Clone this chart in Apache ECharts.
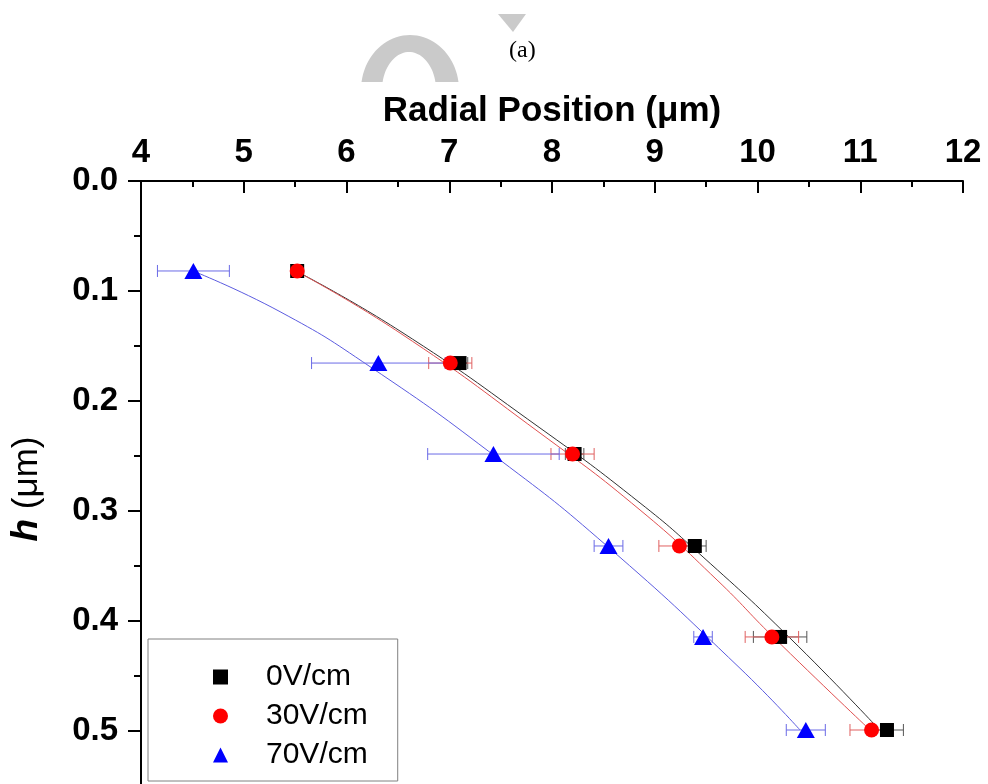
<!DOCTYPE html>
<html>
<head>
<meta charset="utf-8">
<script src="https://cdn.jsdelivr.net/npm/echarts@6/dist/echarts.min.js"></script>
<style>
  html, body { margin: 0; padding: 0; background: #fff; overflow: hidden; }
  /* the plot runs past the bottom of the window, as in the original figure */
  #chart { width: 988px; height: 841px; }
</style>
</head>
<body>
<div id="chart"></div>
<script>
// measured points (h in um, radial position in um)
const hValues = [0.0818, 0.1655, 0.2482, 0.3318, 0.4145, 0.4991];
const pos0V = [5.52, 7.10, 8.22, 9.39, 10.22, 11.26];
const pos30V = [5.52, 7.01, 8.20, 9.24, 10.14, 11.11];
const pos70V = [4.51, 6.31, 7.43, 8.55, 9.47, 10.47];
const err0V = [0.05, 0.08, 0.09, 0.11, 0.26, 0.16];
const err30V = [0.05, 0.21, 0.21, 0.20, 0.26, 0.21];
const err70V = [0.35, 0.65, 0.64, 0.14, 0.09, 0.19];

// fitted curves: [radial position, h]
const fit0V = [[5.518, 0.0823], [6.521, 0.1364], [7.883, 0.2245], [8.857, 0.2927], [9.470, 0.3418], [10.316, 0.4155], [11.153, 0.4955]];
const fit30V = [[5.518, 0.0823], [6.521, 0.1382], [7.883, 0.2291], [8.857, 0.2991], [9.606, 0.3627], [10.151, 0.4143], [11.075, 0.4973]];
const fit70V = [[4.506, 0.0818], [5.353, 0.1188], [6.229, 0.1688], [7.494, 0.2536], [8.535, 0.3318], [9.830, 0.4430], [10.414, 0.4991]];

const seriesNames = ['0V/cm', '30V/cm', '70V/cm'];
const xTicks = { min: 4, max: 12, interval: 1 };
const yTicks = { min: 0, max: 0.6, interval: 0.1 };

const font = 'Arial, "Liberation Sans", Helvetica, sans-serif';

const points = (xs, errs) => xs.map((x, i) => [x, hValues[i], errs[i]]);

function errorBars(name, xs, errs, color) {
  return {
    name: name + ' err',
    type: 'custom',
    z: 3,
    data: points(xs, errs),
    renderItem: (params, api) => {
      const y = api.value(1);
      const a = api.coord([api.value(0) - api.value(2), y]);
      const b = api.coord([api.value(0) + api.value(2), y]);
      const style = { stroke: color, lineWidth: 1 };
      return {
        type: 'group',
        children: [
          { type: 'line', shape: { x1: a[0], y1: a[1], x2: b[0], y2: b[1] }, style },
          { type: 'line', shape: { x1: a[0], y1: a[1] - 6, x2: a[0], y2: a[1] + 6 }, style },
          { type: 'line', shape: { x1: b[0], y1: b[1] - 6, x2: b[0], y2: b[1] + 6 }, style },
        ],
      };
    },
  };
}

function fitLine(data, color) {
  return {
    type: 'line',
    data,
    smooth: true,
    symbol: 'none',
    z: 2,
    lineStyle: { color, width: 1 },
  };
}

function markers(name, xs, symbol, size, color) {
  return {
    name,
    type: 'scatter',
    data: points(xs, xs.map(() => 0)),
    symbol,
    symbolSize: size,
    z: 5,
    itemStyle: { color, opacity: 1 },
  };
}

// light grey watermark fragments
function archPoints() {
  const pts = [];
  const cx = 410, cy = 90;
  const t0 = Math.asin(8 / 55), t1 = Math.asin(8 / 38);
  for (let i = 0; i <= 40; i++) {
    const t = Math.PI - t0 - (Math.PI - 2 * t0) * i / 40;
    pts.push([cx + 49 * Math.cos(t), cy - 55 * Math.sin(t)]);
  }
  for (let i = 0; i <= 40; i++) {
    const t = t1 + (Math.PI - 2 * t1) * i / 40;
    pts.push([cx - 1 + 27 * Math.cos(t), cy - 38 * Math.sin(t)]);
  }
  return pts;
}

const chart = echarts.init(document.getElementById('chart'));
chart.setOption({
  animation: false,
  backgroundColor: '#fff',
  graphic: [
    { type: 'polygon', shape: { points: archPoints() }, style: { fill: '#cacaca' }, z: 0 },
    { type: 'polygon', shape: { points: [[498, 14], [526, 14], [513, 32]] }, style: { fill: '#cacaca' }, z: 0 },
    {
      type: 'text', left: 509, top: 39,
      style: {
        text: '(a)', fontSize: 24, fontFamily: '"Liberation Serif", "Times New Roman", serif', fill: '#000',
      },
    },
    {
      // y axis title, centred where the original has it
      type: 'text', x: 27, y: 489, rotation: Math.PI / 2,
      style: {
        text: '{i|h} (\u03bcm)',
        align: 'center',
        verticalAlign: 'middle',
        fontFamily: font,
        fontSize: 35,
        fill: '#000',
        rich: { i: { fontFamily: font, fontSize: 37, fontWeight: 'bold', fontStyle: 'italic', fill: '#000' } },
      },
    },
  ],
  grid: { left: 141, right: 25, top: 181, bottom: 0, outerBoundsMode: 'none', containLabel: false },
  legend: {
    data: [
      { name: seriesNames[0], icon: 'rect' },
      { name: seriesNames[1], icon: 'circle' },
      { name: seriesNames[2], icon: 'triangle' },
    ],
    orient: 'vertical',
    left: 148,
    top: 639,
    padding: [20, 30, 8, 65],
    itemWidth: 15,
    itemHeight: 15,
    itemGap: 3,
    borderColor: '#808080',
    borderWidth: 1,
    backgroundColor: '#fff',
    textStyle: { fontFamily: font, fontSize: 30, lineHeight: 36, color: '#000', padding: [0, 0, 0, 33] },
  },
  xAxis: {
    type: 'value',
    position: 'top',
    ...xTicks,
    name: 'Radial Position (\u03bcm)',
    nameLocation: 'middle',
    nameGap: 52,
    nameTextStyle: { fontFamily: font, fontSize: 35, fontWeight: 'bold', color: '#000' },
    axisLine: { lineStyle: { color: '#000', width: 2 } },
    axisTick: { inside: true, length: 12, lineStyle: { width: 2, color: '#000' } },
    minorTick: { show: true, splitNumber: 2, length: 6, lineStyle: { width: 2, color: '#000' } },
    splitLine: { show: false },
    axisLabel: { margin: 12, fontFamily: font, fontSize: 33, fontWeight: 'bold', color: '#000' },
  },
  yAxis: {
    type: 'value',
    inverse: true,
    ...yTicks,
    axisLine: { onZero: false, lineStyle: { color: '#000', width: 2 } },
    axisTick: { length: 13, lineStyle: { width: 2, color: '#000' } },
    minorTick: { show: true, splitNumber: 2, length: 7, lineStyle: { width: 2, color: '#000' } },
    splitLine: { show: false },
    axisLabel: {
      margin: 23, fontFamily: font, fontSize: 33, fontWeight: 'bold', color: '#000',
      formatter: (v) => v.toFixed(1),
    },
  },
  series: [
    fitLine(fit0V, '#333333'),
    fitLine(fit30V, '#e05050'),
    fitLine(fit70V, '#5c5ce0'),
    errorBars(seriesNames[0], pos0V, err0V, '#555555'),
    errorBars(seriesNames[1], pos30V, err30V, '#e06060'),
    errorBars(seriesNames[2], pos70V, err70V, '#6a6ae6'),
    markers(seriesNames[0], pos0V, 'rect', 14, '#000000'),
    markers(seriesNames[1], pos30V, 'circle', 15, '#ff0000'),
    markers(seriesNames[2], pos70V, 'triangle', [18, 16], '#0000ff'),
  ],
});
</script>
</body>
</html>
